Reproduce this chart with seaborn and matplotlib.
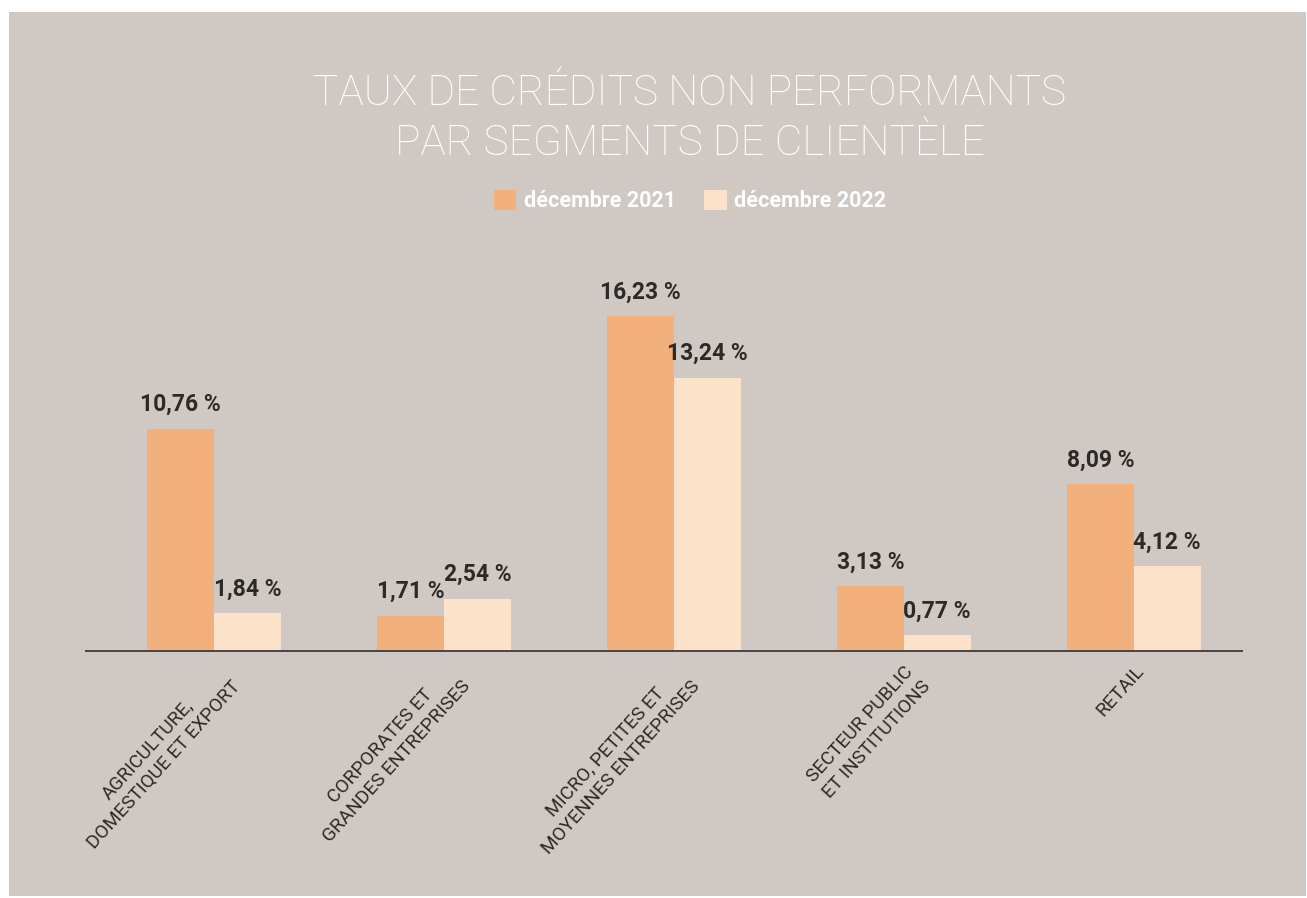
import matplotlib
matplotlib.use("Agg")
import matplotlib.pyplot as plt
import matplotlib.patches as mpatches
import seaborn as sns
import pandas as pd

# ---- data ----
segments = [
    "AGRICULTURE,\nDOMESTIQUE ET EXPORT",
    "CORPORATES ET\nGRANDES ENTREPRISES",
    "MICRO, PETITES ET\nMOYENNES ENTREPRISES",
    "SECTEUR PUBLIC\nET INSTITUTIONS",
    "RETAIL",
]
periods = ["décembre 2021", "décembre 2022"]
taux_2021 = [10.76, 1.71, 16.23, 3.13, 8.09]
taux_2022 = [1.84, 2.54, 13.24, 0.77, 4.12]

title_lines = ["TAUX DE CRÉDITS NON PERFORMANTS", "PAR SEGMENTS DE CLIENTÈLE"]

df = pd.DataFrame({
    "segment": segments * 2,
    "periode": [periods[0]] * len(segments) + [periods[1]] * len(segments),
    "taux": taux_2021 + taux_2022,
})

BG = "#cfc8c3"
C1 = "#f2b07c"
C2 = "#fce2cb"
DARK = "#2b2a29"

sns.set_theme(style="white")
plt.rcParams["font.family"] = ["Roboto", "DejaVu Sans"]

fig = plt.figure(figsize=(13.07, 8.98), dpi=100)
fig.patch.set_facecolor("white")
bgrect = mpatches.Rectangle((9 / 1307, 2 / 898), 1297 / 1307, 884 / 898,
                            transform=fig.transFigure, facecolor=BG,
                            edgecolor="none", zorder=-10)
fig.patches.append(bgrect)

ax = fig.add_axes([86 / 1307, 1 - 651 / 898, (1242 - 86) / 1307, (651 - 240) / 898])
ax.set_facecolor("none")
ax.set_zorder(5)

sns.barplot(data=df, x="segment", y="taux", hue="periode", palette=[C1, C2],
            width=0.58, dodge=True, gap=0, saturation=1, ax=ax, legend=True,
            errorbar=None)

ax.set_xlim(-0.557, 4.47)
ax.set_ylim(0, 19.9)

for cont in ax.containers:
    for p in cont.patches:
        p.set_edgecolor("none")
        p.set_linewidth(0)
    vals = cont.datavalues
    labels = [f"{v:.2f}".replace(".", ",") + "\u202f%" for v in vals]
    ax.bar_label(cont, labels=labels, padding=9, fontsize=16.5, fontweight="bold",
                 color=DARK, family=["Roboto", "DejaVu Sans"])

for s in ["top", "left", "right"]:
    ax.spines[s].set_visible(False)
ax.spines["bottom"].set_color("#4a4544")
ax.spines["bottom"].set_linewidth(1.4)
ax.set_yticks([])
ax.set_xlabel("")
ax.set_ylabel("")
ax.tick_params(axis="x", length=0, pad=8)
ax.set_xticks(range(len(segments)))
ax.set_xticklabels(segments, rotation=48, ha="right", va="top",
                   rotation_mode="anchor", multialignment="center",
                   fontsize=13.7, color=DARK, linespacing=1.3)

# legend
handles, lbls = ax.get_legend_handles_labels()
ax.get_legend().remove()
for h in handles:
    h.set_edgecolor("none")
    h.set_linewidth(0)
leg = fig.legend(handles, lbls, loc="center", bbox_to_anchor=(690 / 1307, 1 - 201 / 898),
                 ncol=2, frameon=False, handlelength=1.05, handleheight=1.05,
                 handletextpad=0.35, columnspacing=1.3, borderaxespad=0,
                 prop={"size": 15.5, "weight": "bold"})
for t in leg.get_texts():
    t.set_color("white")

# title
fig.text(690 / 1307, 1 - 93 / 898, title_lines[0], ha="center", va="center",
         fontsize=30.5, fontweight="light", color="white")
fig.text(690 / 1307, 1 - 143 / 898, title_lines[1], ha="center", va="center",
         fontsize=30.5, fontweight="light", color="white")

fig.savefig("out.png", dpi=100, facecolor=fig.get_facecolor())
